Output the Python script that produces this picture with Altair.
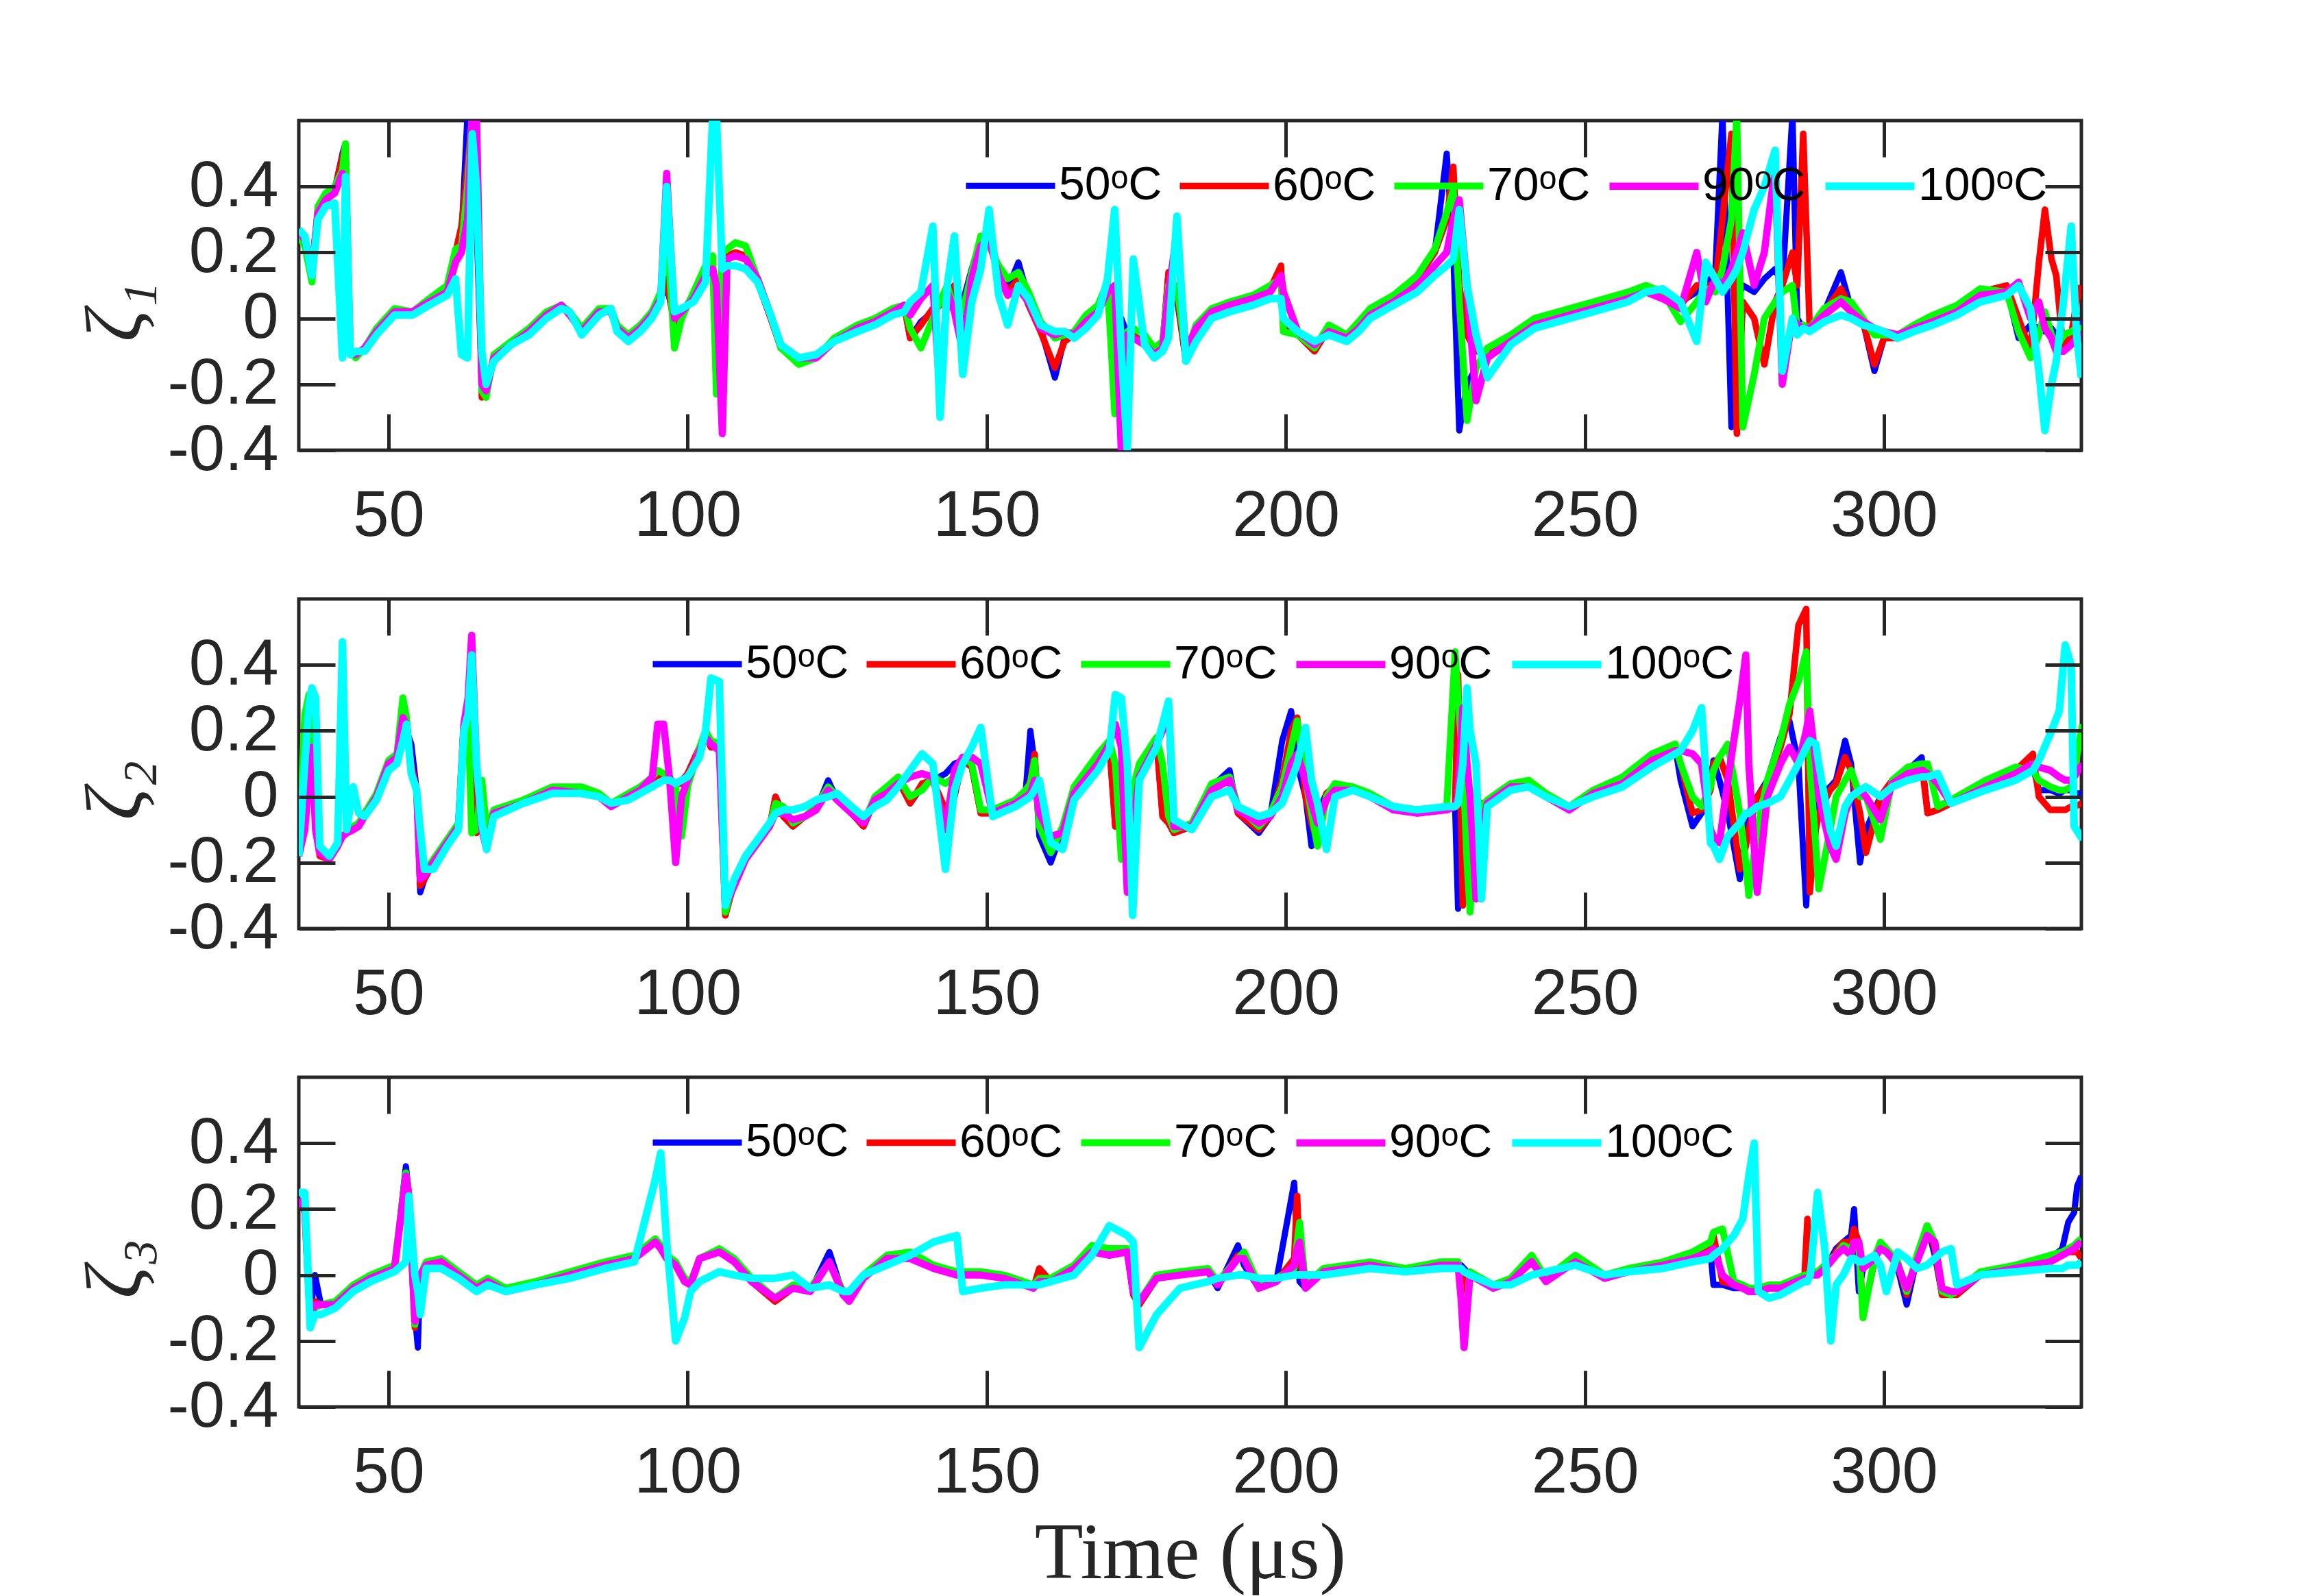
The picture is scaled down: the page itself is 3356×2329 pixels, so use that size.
import altair as alt
import pandas as pd

SERIES = ["50ᵒC", "60ᵒC", "70ᵒC", "90ᵒC", "100ᵒC"]
COLORS = ["#0000FF", "#FF0000", "#00FF00", "#FF00FF", "#00FFFF"]
WIDTHS = [9, 11, 12, 10, 14]
X_TICKS = [50, 100, 150, 200, 250, 300]
Y_TICKS = [-0.4, -0.2, 0, 0.2, 0.4]
Y_TITLES = ["ζ₁", "ζ₂", "ζ₃"]
X_TITLE = "Time (μs)"

# ---------------- panel 1 (zeta_1) ----------------
t1 = [35, 36, 37.2, 38.2, 39.5, 41, 42.3, 42.8, 43.6, 44.5,
      46, 48, 51, 54, 56.8, 59.8, 61.2, 62.2, 63.2, 64,
      64.7, 65.6, 66.3, 67.6, 70.5, 73.5, 76.4, 78.9, 80.3, 82.3,
      85.2, 87.2, 88.2, 90.1, 92.1, 94, 95.5, 96.5, 97.8, 99,
      101, 103, 104.2, 104.8, 105.8, 106.6, 108, 109.7, 111.7, 113.7,
      115.6, 118.6, 121.5, 124.5, 128.4, 131.3, 134.3, 136.2, 137.2, 139,
      141, 142.2, 143.4, 144.6, 146, 147.5, 149, 150.4, 152, 153.5,
      155.3, 157, 159, 161.4, 163, 164.6, 166.6, 168.6, 170.2, 171.4,
      172.5, 173.5, 174.5, 176.4, 178, 179.4, 180.4, 181.8, 183.3, 185,
      187.6, 190.6, 194.5, 197.4, 199.2, 199.6, 202, 204.8, 207.2, 210.2,
      212.2, 214.1, 218, 222, 224.9, 226.9, 228, 229, 230.3, 231.8,
      233.7, 237.6, 241.6, 245.5, 251.4, 257.2, 260.2, 263, 266, 268.7,
      270.2, 271.8, 273, 274.5, 275.4, 276.4, 278.3, 280, 281.8, 283,
      284.7, 285.5, 286.5, 287.6, 290, 292.8, 294.5, 296.5, 298.4, 300,
      302.3, 305, 308.2, 312.2, 316.1, 320.5, 322.5, 324.5, 325.9, 326.9,
      328, 328.8, 330, 331.3, 332.2, 333]
z1_50 = [.26, .24, .15, .33, .37, .39, .50, .53, -.11, -.11,
         -.09, -.04, .02, .02, .05, .09, .18, .25, .62, .62,
         .30, -.22, -.20, -.12, -.08, -.04, .01, .04, .01, -.04,
         .02, .02, -.03, -.06, -.03, .01, .06, .10, -.01, .02,
         .07, .15, .16, -.10, .15, .19, .20, .19, .11, .01,
         -.09, -.13, -.12, -.07, -.03, -.01, .02, .04, -.06, -.01,
         .02, .04, .10, .06, .05, .15, .24, .25, .15, .09,
         .17, .06, -.03, -.18, -.06, -.05, -.01, .03, .10, -.05,
         .00, -.05, -.03, -.06, -.10, -.08, .14, .06, -.13, -.03,
         .02, .04, .06, .09, .15, -.03, -.05, -.10, -.03, -.06,
         -.02, .02, .06, .12, .20, .50, .20, -.34, -.20, -.15,
         -.10, -.06, -.01, .01, .04, .07, .09, .07, .05, .08,
         .10, .14, .62, -.33, .05, .10, .08, .12, .15, .10,
         .62, .00, -.03, -.03, .02, .14, .03, -.01, -.16, -.06,
         -.06, -.03, .00, .03, .08, .09, -.06, -.02, -.03, -.04,
         -.03, -.05, -.05, -.04, -.03, .00]
z1_60 = [.26, .24, .15, .33, .37, .39, .49, .52, -.11, -.11,
         -.09, -.04, .02, .02, .05, .09, .20, .28, .46, .62,
         .60, -.24, -.23, -.12, -.08, -.04, .01, .04, .01, -.04,
         .02, .02, -.03, -.06, -.03, .01, .06, .12, -.02, .01,
         .07, .15, .18, -.20, .18, .19, .20, .19, .11, .01,
         -.09, -.13, -.12, -.07, -.03, -.01, .02, .04, -.06, -.02,
         .03, .04, .08, .10, .00, .12, .24, .26, .14, .08,
         .12, .04, -.04, -.15, -.07, -.05, -.01, .03, .09, -.23,
         -.10, -.06, -.04, -.06, -.10, -.08, .14, .08, -.13, -.03,
         .02, .04, .06, .09, .16, -.03, -.05, -.10, -.03, -.06,
         -.02, .02, .06, .12, .20, .30, .46, .10, -.05, -.10,
         -.10, -.06, -.01, .01, .04, .07, .09, .06, .04, .10,
         .10, .10, .30, .56, -.35, .05, .00, -.14, .05, .10,
         .20, .10, .56, -.04, .02, .09, .03, -.01, -.14, -.06,
         -.06, -.03, .00, .03, .08, .10, .00, -.10, .17, .33,
         .18, .13, -.10, -.05, .05, .10]
z1_70 = [.25, .22, .11, .34, .38, .40, .45, .53, -.10, -.12,
         -.09, -.03, .03, .02, .06, .10, .21, .22, .40, .62,
         .62, -.22, -.24, -.11, -.07, -.03, .02, .04, .02, -.03,
         .03, .03, -.02, -.05, -.02, .02, .08, .27, -.09, .00,
         .08, .16, .19, -.23, .20, .21, .23, .22, .12, .02,
         -.09, -.14, -.12, -.06, -.02, .00, .03, .04, -.03, -.09,
         .00, .05, .10, .03, .02, .14, .25, .22, .16, .12,
         .14, .08, -.01, -.06, -.05, -.04, .01, .04, .11, -.29,
         -.15, -.04, -.03, -.05, -.09, -.07, .10, .10, -.11, -.02,
         .03, .05, .07, .10, .12, -.04, -.05, -.09, -.02, -.05,
         -.01, .03, .07, .13, .21, .32, .39, .05, -.31, -.15,
         -.09, -.05, .00, .02, .05, .08, .10, .08, -.01, .05,
         .09, .08, .15, .30, .62, -.33, -.17, .00, .05, .08,
         .10, -.03, -.02, -.03, .03, .06, .05, .00, -.05, -.05,
         -.05, -.02, .01, .04, .09, .08, -.04, -.12, -.05, .02,
         -.05, -.09, -.05, -.04, -.03, -.03]
z1_90 = [.26, .24, .15, .32, .36, .38, .44, .40, -.10, -.11,
         -.09, -.04, .02, .02, .05, .08, .17, .20, .30, .62,
         .62, -.20, -.22, -.12, -.08, -.04, .01, .04, .01, -.04,
         .02, .02, -.03, -.06, -.03, .01, .06, .44, .00, .02,
         .06, .13, .15, .10, -.35, .18, .19, .18, .12, .02,
         -.08, -.12, -.12, -.07, -.03, -.01, .02, .04, .01, .06,
         .10, -.23, .08, .02, -.10, .12, .22, .24, .13, .07,
         .09, .05, -.03, -.05, -.04, -.05, -.01, .02, .08, .10,
         -.40, -.05, -.06, -.08, -.11, -.09, .08, .26, -.10, -.03,
         .02, .04, .06, .08, .13, .08, -.04, -.08, -.04, -.06,
         -.03, .01, .05, .10, .16, .20, .30, .36, .10, -.25,
         -.12, -.07, -.02, .00, .03, .06, .08, .06, .03, .20,
         .05, .12, .10, .15, .20, .26, .10, .20, .46, -.20,
         .00, -.02, -.03, -.03, .01, .05, .02, -.01, -.03, -.04,
         -.05, -.03, -.01, .02, .07, .08, .11, .00, .05, -.03,
         -.06, -.10, -.10, -.08, -.06, -.04]
z1_100 = [.27, .25, .13, .30, .34, .35, -.12, .43, -.11, -.10,
          -.10, -.05, .01, .01, .04, .07, .12, -.11, -.12, .56,
          .40, -.10, -.20, -.13, -.08, -.05, .00, .03, .02, -.05,
          .01, .03, -.04, -.07, -.04, .00, .05, .40, .02, .03,
          .05, .11, .62, .62, .15, .16, .16, .15, .11, .02,
          -.08, -.12, -.11, -.07, -.04, -.02, .01, .02, .05, .08,
          .28, -.30, .10, .25, -.17, .05, .15, .33, .07, -.02,
          .10, .06, -.02, -.04, -.04, -.06, -.03, .01, .12, .33,
          -.10, -.40, .18, -.08, -.12, -.10, -.06, .31, -.13, -.07,
          .00, .02, .04, .06, .06, .00, -.04, -.07, -.05, -.07,
          -.04, .00, .04, .08, .13, .16, .18, .33, .10, -.05,
          -.18, -.08, -.03, -.01, .02, .05, .08, .09, .05, -.07,
          .17, .12, .08, .12, .15, .20, .33, .40, .51, -.16,
          .00, -.05, -.03, -.04, -.01, .01, .00, -.02, -.03, -.04,
          -.06, -.04, -.02, .01, .05, .07, .10, .03, -.16, -.34,
          -.20, -.13, .05, .28, -.05, -.18]

# ---------------- panel 2 (zeta_2) ----------------
t2 = [35.0, 36.0, 36.7, 37.2, 37.8, 38.5, 40.1, 41.5, 42.3, 43.0,
      44.1, 45.0, 46.0, 48.0, 50.0, 51.4, 52.4, 53.0, 53.8, 54.7,
      55.3, 56.0, 57.5, 59.8, 61.7, 62.6, 63.3, 63.9, 64.7, 65.6,
      66.4, 67.6, 72.5, 77.4, 82.3, 85.2, 87.2, 90.1, 92.1, 94.1,
      95.0, 96.0, 97.0, 98.0, 99.0, 100.0, 102.0, 103.0, 103.9, 105.3,
      106.3, 107.8, 109.7, 111.7, 113.7, 114.7, 116.0, 117.6, 119.6, 121.5,
      123.5, 125.0, 127.4, 129.4, 131.3, 133.3, 135.2, 137.2, 139.2, 141.0,
      143.1, 144.6, 146.0, 147.5, 149.0, 151.0, 154.8, 156.5, 157.3, 158.0,
      158.8, 160.7, 162.7, 164.6, 168.6, 170.5, 171.5, 172.5, 173.5, 174.4,
      175.5, 178.4, 179.4, 180.4, 181.3, 184.3, 187.6, 190.6, 192.0, 195.5,
      197.4, 199.4, 200.9, 201.9, 203.3, 204.3, 205.3, 206.8, 208.2, 211.2,
      214.1, 218.0, 222.0, 226.9, 228.3, 228.8, 229.6, 230.3, 230.8, 231.8,
      232.7, 233.7, 237.6, 240.6, 243.5, 247.4, 251.4, 256.3, 261.2, 265.1,
      266.0, 268.0, 269.5, 271.0, 271.5, 272.5, 273.9, 275.9, 276.9, 277.4,
      278.8, 280.5, 282.7, 284.2, 285.7, 287.0, 287.6, 288.6, 289.1, 291.0,
      292.0, 293.5, 294.5, 296.0, 297.0, 299.4, 301.4, 304.0, 306.3, 307.3,
      309.0, 311.2, 317.0, 322.0, 324.9, 325.9, 327.8, 329.3, 330.3, 331.3,
      331.8, 333.2]
z2_50 = [-.18, -.05, .10, .20, -.05, -.17, -.19, -.15, -.12, -.11,
         -.10, -.09, -.06, .00, .10, .12, .27, .20, .16, .02,
         -.29, -.25, -.20, -.14, -.09, .22, .26, .20, -.11, -.10,
         -.10, -.05, -.02, .02, .01, .00, -.03, .00, .02, .05,
         .07, .05, .05, .04, .05, .07, .15, .19, .15, .15,
         -.36, -.26, -.19, -.14, -.09, .00, -.05, -.09, -.06, -.04,
         .05, -.01, -.05, -.09, -.01, .02, .05, -.02, .03, .05,
         .07, .10, .11, .09, -.05, -.05, -.02, .01, .20, .10,
         -.12, -.20, -.10, .02, .12, .16, -.09, -.09, -.05, .00,
         .09, .17, -.06, -.08, -.11, -.09, .03, .08, -.05, -.11,
         -.06, .17, .26, .10, .00, -.15, -.05, .01, .03, .02,
         .00, -.04, -.05, -.04, -.03, -.34, -.20, -.10, -.05, -.03,
         -.02, -.02, .03, .04, .00, -.04, .01, .05, .12, .15,
         .05, -.09, -.05, .05, .11, .05, -.05, -.25, -.10, -.05,
         .00, .05, .18, .23, .10, -.33, -.10, -.05, .00, .03,
         .05, .17, .10, -.20, -.10, .00, .05, .08, .12, -.05,
         -.04, -.02, .04, .08, .09, .02, .02, .01, .02, .02,
         .01, .01]
z2_60 = [-.18, .10, .17, .15, -.10, -.18, -.19, -.15, -.12, -.11,
         -.10, -.09, -.06, .00, .10, .13, .20, .22, .10, .02,
         -.27, -.25, -.20, -.14, -.08, .22, .26, .22, -.11, -.09,
         -.10, -.05, -.02, .02, .01, .00, -.03, .00, .02, .05,
         .07, .05, .05, .04, .04, .07, .15, .19, .15, .15,
         -.36, -.26, -.19, -.14, -.09, .00, -.06, -.09, -.06, -.04,
         .02, -.01, -.05, -.09, -.01, .02, .05, -.02, .04, .05,
         -.04, .00, .11, .09, -.05, -.05, -.02, .01, .05, .13,
         -.08, -.16, -.10, .02, .12, .16, -.09, -.09, -.06, .00,
         .09, .17, -.06, -.08, -.11, -.09, .03, .06, -.05, -.10,
         -.06, .05, .20, .24, .00, -.08, -.14, .01, .03, .02,
         .00, -.04, -.05, -.04, -.03, .37, -.33, -.20, -.10, -.03,
         -.02, -.02, .03, .04, .00, -.04, .01, .05, .12, .15,
         .10, -.05, -.04, .02, .10, .12, .05, -.22, -.15, -.10,
         .00, .04, .15, .25, .52, .57, -.29, -.10, -.05, .02,
         .04, .12, .08, -.05, -.17, .00, .05, .08, .10, -.05,
         -.04, -.02, .04, .08, .13, .00, -.04, -.04, -.04, -.03,
         -.03, -.02]
z2_70 = [-.17, .25, .31, .25, -.05, -.17, -.19, -.14, -.12, -.11,
         -.09, -.08, -.05, .01, .11, .13, .30, .24, .08, .02,
         -.24, -.23, -.19, -.13, -.08, .22, .24, -.11, -.10, .05,
         -.10, -.04, -.01, .03, .03, .01, -.02, .01, .03, .06,
         .08, .07, .06, .03, -.12, .03, .15, .20, .17, .16,
         -.35, -.25, -.18, -.13, -.09, -.02, -.03, -.08, -.06, -.03,
         .03, .00, -.04, -.08, .00, .03, .06, .00, .02, .06,
         .04, .06, .12, .10, -.04, -.04, -.01, .02, .04, .11,
         -.09, -.17, -.09, .03, .13, .17, .10, -.19, -.08, .02,
         .10, .18, .10, -.06, -.10, -.08, .04, .06, -.03, -.09,
         -.05, .03, .15, .23, .05, -.05, -.15, .00, .04, .03,
         .01, -.03, -.04, -.03, .44, .30, .10, -.20, -.35, -.10,
         -.03, -.01, .04, .05, .01, -.03, .02, .06, .13, .16,
         .10, .00, -.03, .03, .08, .12, .16, -.05, -.20, -.30,
         -.10, .05, .17, .28, .35, .44, .10, -.15, -.28, -.10,
         .00, .05, .08, .00, .00, -.13, .05, .09, .10, .10,
         -.03, -.01, .05, .09, .08, .05, .03, .02, .02, .03,
         .08, .22]
z2_90 = [-.18, -.10, .05, .15, -.10, -.17, -.19, -.15, -.12, -.11,
         -.10, -.09, -.06, .00, .10, .12, .24, .22, .08, .02,
         -.25, -.24, -.20, -.14, -.09, .22, .30, .49, .10, -.10,
         -.16, -.05, -.02, .02, .01, .00, -.03, .00, .02, .06,
         .22, .22, .05, -.20, .00, .05, .14, .18, .16, .14,
         -.33, -.27, -.19, -.14, -.09, -.05, -.05, -.07, -.06, -.04,
         .02, -.01, -.05, -.08, -.01, .01, .04, .06, .07, .06,
         -.10, .08, .12, .12, .10, -.05, -.02, .00, .01, .05,
         -.05, -.12, -.11, .01, .10, .16, .22, .15, -.29, -.10,
         .06, .16, .20, .27, -.09, -.09, .02, .05, -.04, -.08,
         -.06, .00, .10, .13, .05, -.02, -.08, -.01, .02, .02,
         .00, -.04, -.05, -.04, -.03, .00, .27, .10, .00, -.31,
         -.10, -.02, .03, .03, .00, -.04, .01, .04, .11, .14,
         .14, .13, .10, -.10, -.12, -.14, .05, .29, .43, .10,
         -.29, .00, .10, .15, .10, .20, .26, .10, .00, -.15,
         -.19, -.05, .00, .02, .00, -.07, .04, .07, .08, .07,
         .04, -.02, .03, .07, .10, .09, .08, .06, .05, .05,
         .06, .10]
z2_100 = [-.18, .10, .28, .33, .30, -.15, -.18, -.14, .47, -.10,
          .03, -.05, -.06, -.01, .08, .10, .17, .22, .07, .02,
          -.10, -.22, -.22, -.15, -.10, .20, .25, .43, .10, -.08,
          -.16, -.06, -.02, .01, .01, .00, -.02, -.01, .01, .03,
          .04, .05, .05, .04, .05, .06, .12, .20, .36, .35,
          -.33, -.25, -.18, -.13, -.08, -.05, -.04, -.04, -.03, -.01,
          .00, .01, -.03, -.06, -.03, -.01, .03, .08, .13, .10,
          -.22, .02, .10, .15, .21, -.06, -.03, -.01, .00, .02,
          .05, -.14, -.16, -.01, .08, .14, .31, .30, .10, -.36,
          .05, .15, .22, .29, -.07, -.10, .00, .02, -.03, -.06,
          -.05, -.02, .05, .10, .21, .05, -.02, -.16, .00, .02,
          .00, -.03, -.04, -.03, -.03, -.02, .10, .33, .20, .10,
          -.31, -.03, .02, .03, .00, -.03, .00, .03, .09, .13,
          .14, .20, .27, -.14, -.15, -.19, -.12, -.08, -.05, -.05,
          -.03, -.02, .00, .05, .10, .15, .17, .16, .10, -.10,
          -.15, -.03, .00, .02, .03, .00, .03, .05, .06, .06,
          .07, -.02, .02, .05, .08, .11, .19, .26, .46, .40,
          -.09, -.13]

# ---------------- panel 3 (zeta_3) ----------------
t3 = [35.0, 36.0, 36.9, 37.7, 38.7, 41.1, 44.1, 47.0, 51.0, 52.9,
      53.4, 54.4, 54.9, 55.3, 56.3, 58.8, 61.7, 64.7, 66.6, 69.6,
      74.5, 80.3, 86.2, 91.1, 94.6, 95.5, 96.5, 98.0, 99.5, 100.5,
      102.0, 105.3, 107.8, 110.7, 114.6, 117.6, 120.5, 123.7, 126.0, 127.0,
      129.4, 133.3, 137.2, 141.1, 145.0, 146.0, 149.0, 152.9, 157.8, 158.8,
      160.7, 164.6, 167.6, 170.5, 173.5, 174.5, 175.5, 178.4, 182.3, 187.0,
      188.6, 192.0, 193.0, 195.5, 198.4, 201.4, 201.9, 202.3, 203.3, 206.3,
      214.1, 220.0, 225.9, 228.8, 229.3, 229.8, 230.8, 234.7, 237.6, 241.1,
      243.5, 248.4, 253.3, 257.3, 263.1, 268.0, 271.0, 271.5, 273.0, 274.9,
      276.4, 277.4, 278.3, 279.0, 280.8, 282.7, 286.7, 287.2, 287.7, 288.9,
      290.1, 291.1, 292.0, 293.2, 294.5, 295.0, 295.8, 296.5, 298.4, 299.4,
      300.4, 302.3, 303.8, 305.5, 307.2, 308.5, 309.7, 311.2, 312.2, 316.1,
      322.0, 327.8, 329.8, 330.8, 331.8, 332.3, 333.0]
z3_50 = [.23, .20, -.12, .00, -.09, -.09, -.04, -.01, .02, .33,
         .25, -.12, -.22, .00, .03, .04, .00, -.04, -.02, -.05,
         -.03, .00, .03, .05, .10, .08, .05, .03, -.02, -.03,
         .05, .07, .04, -.02, -.08, -.04, -.05, .07, -.06, -.08,
         -.01, .05, .06, .02, .00, .00, .00, -.01, -.04, .02,
         -.02, .02, .08, .07, .07, -.06, -.09, -.01, .00, .01,
         -.04, .09, .03, -.04, -.02, .28, .10, -.02, -.04, .01,
         .03, .01, .03, .03, .03, .02, .00, -.04, -.02, .05,
         -.02, .05, -.01, .01, .03, .06, .07, -.03, -.03, -.04,
         -.04, -.05, -.05, -.05, -.04, -.04, -.01, -.01, .00, .00,
         .02, .05, .08, .10, .12, .20, -.05, .02, .06, .09,
         .08, .02, -.09, .05, .15, .06, -.06, -.06, -.06, .00,
         .02, .05, .08, .16, .19, .27, .30]
z3_60 = [.23, .19, -.13, -.08, -.09, -.09, -.04, -.01, .02, .30,
         .24, -.16, -.10, .00, .03, .04, .00, -.04, -.02, -.05,
         -.03, .00, .03, .05, .10, .08, .05, .03, -.02, -.03,
         .05, .07, .04, -.02, -.08, -.04, -.05, .04, -.06, -.08,
         -.01, .05, .06, .02, .00, .00, .00, -.01, -.04, .02,
         -.02, .02, .08, .07, .07, -.06, -.09, -.01, .00, .01,
         -.03, .06, .06, -.04, -.02, .05, .24, .05, -.04, .01,
         .03, .01, .03, .03, -.07, .00, .00, -.04, -.02, .05,
         -.02, .05, -.01, .01, .03, .06, .09, .12, -.02, -.03,
         -.04, -.05, -.05, -.05, -.04, -.04, -.01, .17, .00, .00,
         .02, .04, .07, .10, .10, .14, .10, -.12, .04, .09,
         .07, .03, -.06, .05, .15, .08, -.06, -.06, -.06, .00,
         .02, .05, .06, .07, .07, .07, .05]
z3_70 = [.23, .20, -.14, -.10, -.09, -.08, -.03, .00, .03, .31,
         .24, -.15, -.08, .00, .04, .05, .01, -.03, -.01, -.04,
         -.02, .01, .04, .06, .11, .09, .06, .04, -.01, -.02,
         .05, .08, .05, -.01, -.07, -.03, -.04, .04, -.05, -.07,
         .00, .06, .07, .03, .01, .01, .01, .00, -.03, -.01,
         -.01, .03, .09, .08, .08, -.04, -.08, .00, .01, .02,
         -.02, .05, .07, -.03, -.01, .02, .10, .16, -.03, .02,
         .04, .02, .04, .04, -.07, -.22, .01, -.03, -.01, .06,
         -.01, .06, .00, .02, .04, .07, .10, .13, .14, -.02,
         -.03, -.04, -.04, -.04, -.03, -.03, .00, .00, .01, .01,
         .03, .05, .06, .09, .08, .10, .08, -.13, .05, .10,
         .08, .04, -.05, .06, .15, .10, -.05, -.06, -.05, .01,
         .03, .06, .07, .08, .09, .10, .11]
z3_90 = [.23, .20, -.13, -.09, -.09, -.09, -.04, -.01, .02, .30,
         .24, -.14, -.09, .00, .03, .04, .00, -.04, -.02, -.05,
         -.03, .00, .03, .05, .10, .08, .05, .03, -.02, -.03,
         .05, .07, .04, -.02, -.07, -.04, -.05, .04, -.06, -.08,
         -.01, .05, .05, .02, .00, .00, .00, -.01, -.04, -.02,
         -.02, .02, .07, .06, .07, -.05, -.08, -.01, .00, .01,
         -.03, .05, .05, -.04, -.02, .03, .08, .10, -.04, .01,
         .03, .01, .03, .03, -.07, -.22, .00, -.04, -.02, .04,
         -.02, .04, -.01, .01, .03, .05, .07, .08, .00, -.03,
         -.04, -.05, -.05, -.05, -.04, -.04, -.01, -.01, .00, .00,
         .02, .04, .06, .08, .06, .10, .10, .02, .05, .08,
         .07, .03, -.04, .04, .12, .10, -.04, -.05, -.05, .00,
         .02, .04, .06, .07, .08, .09, .10]
z3_100 = [.25, .25, -.16, -.12, -.12, -.10, -.05, -.02, .01, .04,
          .24, .00, -.05, -.12, .02, .02, -.01, -.05, -.03, -.05,
          -.03, -.01, .02, .04, .29, .37, .10, -.20, -.13, -.05,
          -.02, .01, .00, -.01, -.01, .00, -.04, -.03, -.05, -.05,
          .00, .03, .06, .10, .12, -.05, -.04, -.03, -.03, -.03,
          -.02, .00, .06, .15, .12, .10, -.22, -.12, -.04, -.02,
          -.01, .00, .00, -.01, -.01, .00, .00, .00, .00, .00,
          .02, .01, .02, .02, .02, .01, .00, -.03, -.03, .00,
          .01, .03, .00, .01, .02, .04, .05, .06, .08, .12,
          .17, .30, .40, -.05, -.07, -.06, -.02, -.02, .00, .25,
          .08, -.20, -.03, .00, .05, .05, .04, .04, .06, .03,
          -.05, .07, .05, .02, .03, .05, .07, .08, -.03, .00,
          .01, .02, .02, .03, .03, .03, .04]

PANELS = [
    (t1, [z1_50, z1_60, z1_70, z1_90, z1_100]),
    (t2, [z2_50, z2_60, z2_70, z2_90, z2_100]),
    (t3, [z3_50, z3_60, z3_70, z3_90, z3_100]),
]
LEGEND_X = [968, 511, 511]

W, H = 2601, 481
AX = "#262626"
SANS = "Liberation Sans, Arial, DejaVu Sans"
SERIF = "Liberation Serif, DejaVu Serif"


def frame(t, cols):
    rows = []
    for name, vals in zip(SERIES, cols):
        n = min(len(t), len(vals))
        for i in range(n):
            rows.append({"t": t[i], "v": vals[i], "series": name})
    return pd.DataFrame(rows)


def panel(df, ytitle, lx, xtitle=None):
    xs = alt.Scale(domain=[35, 333], nice=False, zero=False)
    ys = alt.Scale(domain=[-0.4, 0.6], nice=False, zero=False)
    base = alt.Chart(df)

    xaxis = dict(values=X_TICKS, grid=False, domain=False, ticks=False, tickSize=0,
                 labelPadding=124, labelBaseline="alphabetic", labelFont=SANS,
                 labelFontSize=94, labelColor=AX, labelOverlap=False, labelFlush=False)
    if xtitle:
        xaxis.update(title=xtitle, titleFont=SERIF, titleFontSize=116,
                     titleFontWeight="normal", titleColor=AX, titleY=249,
                     titleBaseline="alphabetic")
    else:
        xaxis["title"] = None

    yaxis = alt.Axis(values=Y_TICKS, grid=False, domain=False, ticks=False, tickSize=0,
                     labelPadding=30, labelFont=SANS, labelFontSize=94, labelColor=AX,
                     labelOverlap=False,
                     labelExpr="(datum.value < 0 ? '-' : '') + format(abs(datum.value), '.1~f')",
                     title=ytitle, titleFont=SERIF, titleFontStyle="italic",
                     titleFontWeight="normal", titleFontSize=116, titleColor=AX,
                     titleX=-232, titleY=H / 2 + 38, titleBaseline="alphabetic",
                     titleAngle=270, titleAlign="center")

    lines = base.mark_line(clip=True, strokeJoin="round").encode(
        x=alt.X("t:Q", scale=xs, axis=alt.Axis(**xaxis)),
        y=alt.Y("v:Q", scale=ys, axis=yaxis),
        color=alt.Color("series:N", sort=SERIES,
                        scale=alt.Scale(domain=SERIES, range=COLORS),
                        legend=alt.Legend(orient="none", legendX=lx, legendY=25,
                                          direction="horizontal", columns=5, title=None,
                                          symbolType="stroke", symbolSize=16900,
                                          symbolStrokeWidth=10, labelFont=SANS,
                                          labelFontSize=68, labelColor="black",
                                          labelOffset=0, columnPadding=6, padding=0,
                                          labelLimit=600)),
        strokeWidth=alt.StrokeWidth("series:N", sort=SERIES,
                                    scale=alt.Scale(domain=SERIES, range=WIDTHS),
                                    legend=None),
        order=alt.Order("t:Q"),
    )

    tick = dict(grid=False, domain=False, labels=False, ticks=True, tickSize=53,
                tickWidth=5, tickColor=AX, title=None, zindex=1)
    inv = base.mark_point(opacity=0, clip=True)
    in_a = inv.encode(
        x=alt.X("t:Q", scale=xs, axis=alt.Axis(orient="top", offset=-H, values=X_TICKS, **tick)),
        y=alt.Y("v:Q", scale=ys, axis=alt.Axis(orient="right", offset=-W, values=Y_TICKS, **tick)),
    )
    in_b = inv.encode(
        x=alt.X("t:Q", scale=xs, axis=alt.Axis(orient="bottom", offset=-H, values=X_TICKS, **tick)),
        y=alt.Y("v:Q", scale=ys, axis=alt.Axis(orient="left", offset=-W, values=Y_TICKS, **tick)),
    )
    return alt.layer(lines, in_a, in_b).resolve_axis(
        x="independent", y="independent").properties(width=W, height=H)


charts = []
for k, (t, cols) in enumerate(PANELS):
    charts.append(panel(frame(t, cols), Y_TITLES[k], LEGEND_X[k],
                        X_TITLE if k == 2 else None))

chart = alt.vconcat(*charts, spacing=217, bounds="flush").resolve_scale(
    color="independent", strokeWidth="independent").resolve_legend(
    color="independent", strokeWidth="independent").properties(
    padding={"left": 100, "top": 163, "right": 40, "bottom": 10},
    background="white",
).configure_view(stroke=AX, strokeWidth=5)

chart.save("out.html", embed_options={"renderer": "svg", "actions": False})
